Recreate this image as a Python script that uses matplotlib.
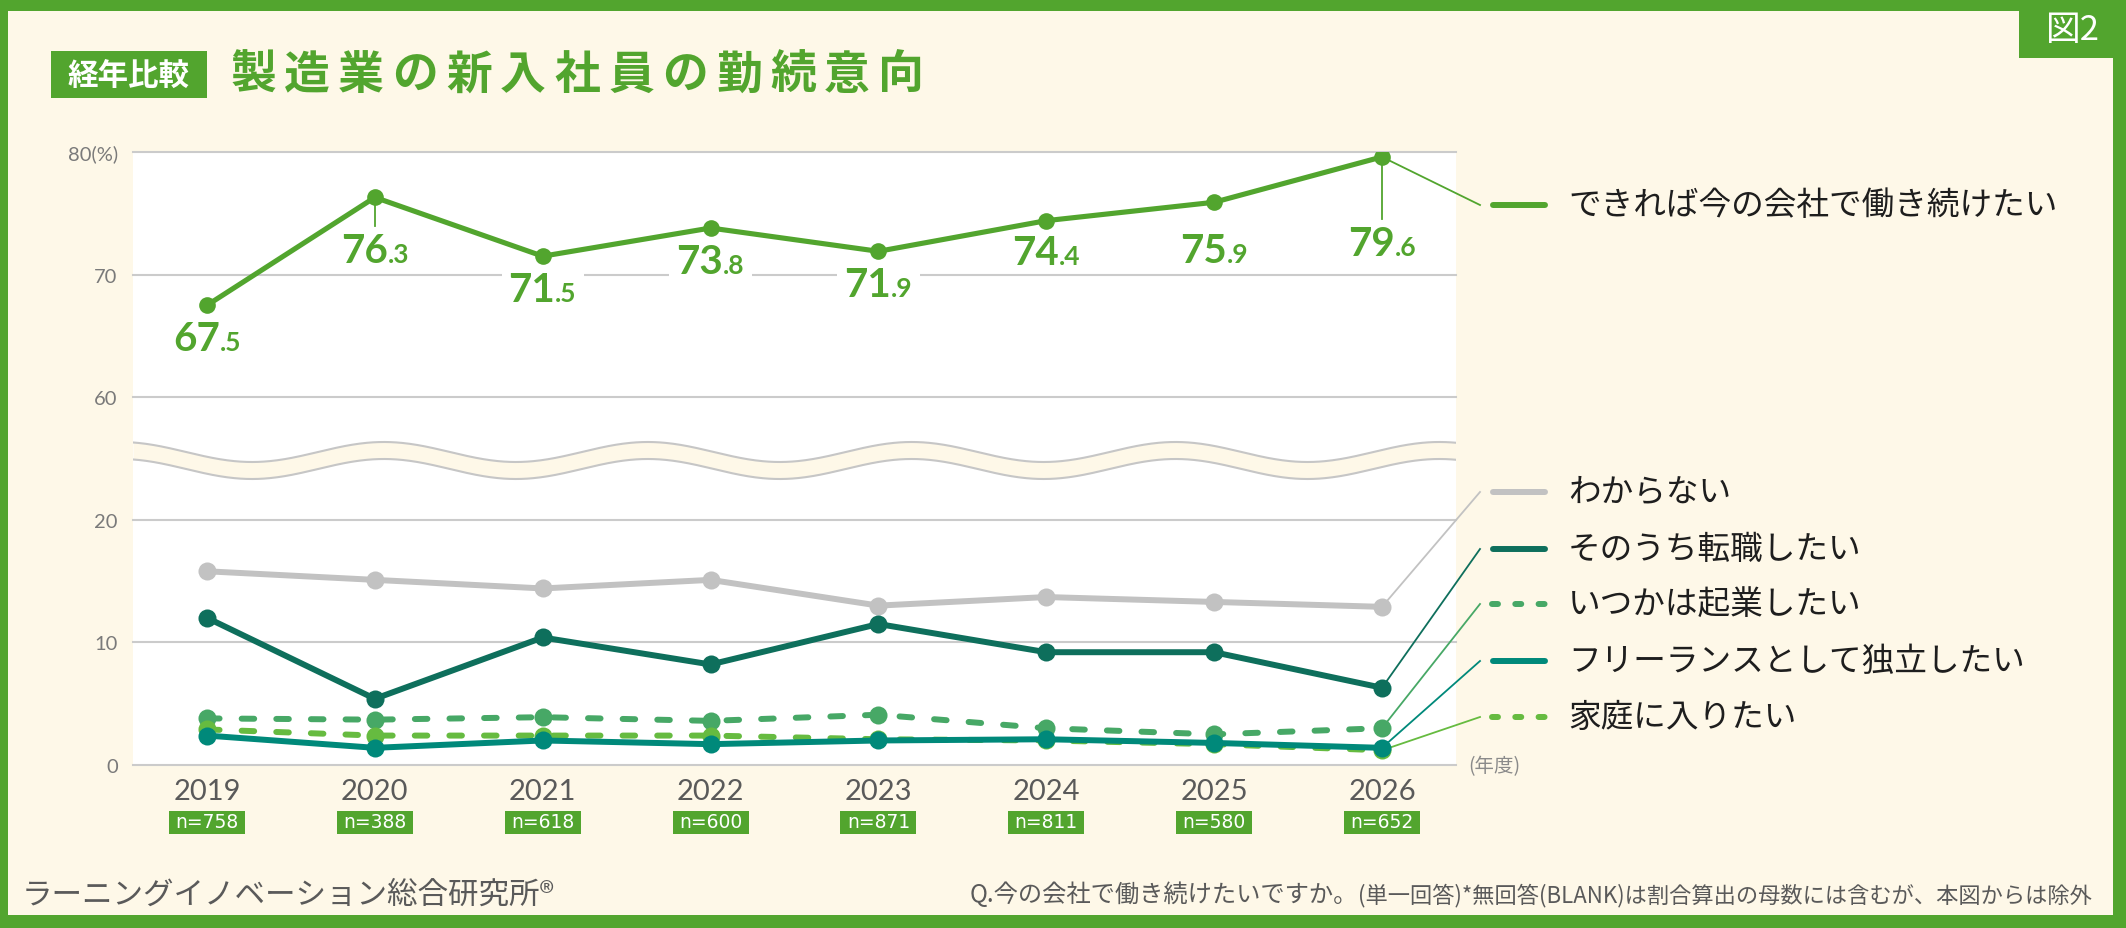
import matplotlib
matplotlib.use("Agg")
import matplotlib.pyplot as plt
import numpy as np
from matplotlib import font_manager as fm
from matplotlib.transforms import IdentityTransform
from matplotlib.patches import Rectangle
from matplotlib.lines import Line2D

# ---------------- data ----------------
years = [2019, 2020, 2021, 2022, 2023, 2024, 2025, 2026]
n_counts = [758, 388, 618, 600, 871, 811, 580, 652]

series_names = ["できれば今の会社で働き続けたい", "わからない", "そのうち転職したい",
                "いつかは起業したい", "フリーランスとして独立したい", "家庭に入りたい"]
continue_vals = [67.5, 76.3, 71.5, 73.8, 71.9, 74.4, 75.9, 79.6]
unknown_vals = [15.8, 15.1, 14.4, 15.1, 13.0, 13.7, 13.3, 12.9]
change_vals = [12.0, 5.4, 10.4, 8.2, 11.5, 9.2, 9.2, 6.3]
startup_vals = [3.8, 3.7, 3.9, 3.6, 4.1, 3.0, 2.5, 3.0]
home_vals = [2.9, 2.4, 2.4, 2.4, 2.1, 2.0, 1.7, 1.2]
freelance_vals = [2.4, 1.4, 2.0, 1.7, 2.0, 2.1, 1.8, 1.4]

y_tick_values = [0, 10, 20, 60, 70, 80]
y_tick_labels = ["0", "10", "20", "60", "70", "80(%)"]

badge_text = "経年比較"
title_text = "製造業の新入社員の勤続意向"
fig_no_text = "図2"
x_unit_text = "(年度)"
source_text = "ラーニングイノベーション総合研究所®"
note_q = "Q.今の会社で働き続けたいですか。"
note_rest = "(単一回答)*無回答(BLANK)は割合算出の母数には含むが、本図からは除外"

# broken axis: 20..60 squeezed into one 10-unit band
BREAK_LO, BREAK_HI, BREAK_GAP = 20, 60, 10
def yt(v):
    return v if v <= BREAK_LO else v - (BREAK_HI - BREAK_LO - BREAK_GAP)

# ---------------- style ----------------
W, H, DPI = 2126, 929, 100
GREEN = "#52A52E"
CREAM = "#FEF8E8"
GRID = "#CBCBCB"
GRAY = "#C2C2C2"
DARK_TEAL = "#0E6F5C"
MID_GREEN = "#47A866"
TEAL = "#00897A"
LIGHT_GREEN = "#66BB40"
TXT_GRAY = "#7A7A7A"
JP = ["Noto Sans CJK JP", "DejaVu Sans"]
available = {f.name for f in fm.fontManager.ttflist}
NUM = "Lato" if "Lato" in available else "DejaVu Sans"
NARROW = "Liberation Sans Narrow" if "Liberation Sans Narrow" in available else "DejaVu Sans"
N_SIZE = 16.5 if NARROW == "Liberation Sans Narrow" else 13.5

IDT = IdentityTransform()
def P(x, ytop):
    """figure pixel measured from the top -> display coords"""
    return x, H - ytop

fig = plt.figure(figsize=(W / DPI, H / DPI), dpi=DPI, facecolor=CREAM)
renderer = fig.canvas.get_renderer()

# plot area in pixels (from top)
L, R, T, B = 133, 1456, 153, 766
ax = fig.add_axes([L / W, (H - B) / H, (R - L) / W, (B - T) / H])
ax.set_facecolor("white")
ax.set_xlim(2018.559, 2026.441)
ax.set_ylim(0, yt(80))
for s in ax.spines.values():
    s.set_visible(False)
ax.set_xticks([])
ax.set_yticks([yt(v) for v in y_tick_values])
ax.set_yticklabels(y_tick_labels, fontsize=14.5, color=TXT_GRAY, family=NUM)
ax.tick_params(axis="y", length=0, pad=11)

for v in y_tick_values:
    ax.axhline(yt(v), color=GRID, lw=1.5, zorder=1, clip_on=False)

def D(x, y):
    return ax.transData.transform((x, y))

# wave (axis break)
ppu = (B - T) / yt(80)
xs = np.linspace(2018.559, 2026.441, 900)
wave = np.cos(2 * np.pi * (xs - 2020.054) / 1.572)
amp = 10 / ppu
up = (B - 453) / ppu + amp * wave
lo = (B - 470) / ppu + amp * wave
ax.fill_between(xs, lo, up, color=CREAM, lw=0, zorder=1.5)
ax.plot(xs, up, color="#C6C6C6", lw=1.5, zorder=1.6)
ax.plot(xs, lo, color="#C6C6C6", lw=1.5, zorder=1.6)

# series
DASH = (2.1, 3.7)
series = [
    (unknown_vals, GRAY, None, 4),
    (change_vals, DARK_TEAL, None, 4.1),
    (startup_vals, MID_GREEN, DASH, 4.2),
    (home_vals, LIGHT_GREEN, DASH, 4.3),
    (freelance_vals, TEAL, None, 4.4),
]
for vals, col, dash, z in series:
    yv = [yt(v) for v in vals]
    if dash is None:
        ax.plot(years, yv, color=col, lw=4.3, solid_capstyle="round", zorder=z)
    else:
        ax.plot(years, yv, color=col, lw=4.3, dashes=dash, dash_capstyle="round", zorder=z)
    ax.plot(years, yv, "o", ms=13, color=col, mec="none", zorder=z)

ax.plot(years, [yt(v) for v in continue_vals], color=GREEN, lw=3.7, zorder=5,
        solid_capstyle="round")
ax.plot(years, [yt(v) for v in continue_vals], "o", ms=12, color=GREEN, mec="none", zorder=5)

# value labels of the main series
label_offsets = [45, 65, 45, 45, 45, 43, 60, 98]
label_leaders = [False, True, False, False, False, False, False, True]
for yr, v, off, lead in zip(years, continue_vals, label_offsets, label_leaders):
    px, py = D(yr, yt(v))
    big, small = f"{v:.1f}".split(".")
    small = "." + small
    t1 = ax.text(0, 0, big, transform=IDT, fontsize=29, color=GREEN, fontweight="bold",
                 family=NUM, ha="left", va="baseline", zorder=3, clip_on=False)
    t2 = ax.text(0, 0, small, transform=IDT, fontsize=19, color=GREEN, fontweight="bold",
                 family=NUM, ha="left", va="baseline", zorder=3, clip_on=False)
    w1 = t1.get_window_extent(renderer).width
    w2 = t2.get_window_extent(renderer).width
    x0 = px - (w1 + w2) / 2
    base = py - off
    t1.set_position((x0, base))
    t2.set_position((x0 + w1, base))
    ax.add_patch(Rectangle((x0 - 7, base - 6), w1 + w2 + 14, 41, transform=IDT,
                           fc="white", ec="none", zorder=2.5, clip_on=False))
    if lead:
        ax.add_line(Line2D([px, px], [py, base + 36], transform=IDT, color=GREEN,
                           lw=1.3, zorder=4.9, clip_on=False))

# year labels and n boxes
for yr, n in zip(years, n_counts):
    px, _ = D(yr, 0)
    ax.text(px, H - 792, str(yr), transform=IDT, ha="center", va="center", fontsize=21,
            color="#5A5A5A", family=NUM, clip_on=False)
    ax.add_patch(Rectangle((px - 38, H - 823 - 11.5), 76, 23, transform=IDT, fc=GREEN,
                           ec="none", clip_on=False))
    ax.text(px, H - 823, f"n={n}", transform=IDT, ha="center", va="center", fontsize=N_SIZE,
            color="white", family=NARROW, clip_on=False)

fig.text(*P(1468, 767), x_unit_text, transform=IDT, ha="left", va="center", fontsize=14,
         color="#8A8A8A", family=JP)

# legend with leader lines
legend_y = [206, 493, 550, 605, 662, 718]
legend_vals = [continue_vals, unknown_vals, change_vals, startup_vals, freelance_vals, home_vals]
legend_cols = [GREEN, GRAY, DARK_TEAL, MID_GREEN, TEAL, LIGHT_GREEN]
legend_dash = [False, False, False, True, False, True]
for name, vals, col, ly, dsh in zip(series_names, legend_vals, legend_cols, legend_y, legend_dash):
    px, py = D(years[-1], yt(vals[-1]))
    lx, lyd = P(1480, ly)
    ax.add_line(Line2D([px, lx], [py, lyd], transform=IDT, color=col, lw=1.3,
                       zorder=3.9, clip_on=False))
    x1, y1 = P(1493, ly)
    x2, _ = P(1545, ly)
    if dsh:
        fig.add_artist(Line2D([x1 - 1, x2 + 2], [y1, y1], transform=IDT, color=col, lw=4.3,
                              dashes=(1.0, 2.9), dash_capstyle="round"))
    else:
        fig.add_artist(Line2D([x1, x2], [y1, y1], transform=IDT, color=col, lw=4.3,
                              solid_capstyle="round"))
    fig.text(*P(1568, ly), name, transform=IDT, ha="left", va="center", fontsize=23.5,
             color="#1E1E1E", family=JP)

# frame
for (x, ytop, w, h) in [(0, 0, W, 12), (0, 0, 8, H), (W - 13, 0, 13, H), (0, H - 13, W, 13),
                        (2019, 0, W - 2019, 59)]:
    fig.add_artist(Rectangle((x, H - ytop - h), w, h, transform=IDT, fc=GREEN, ec="none"))
fig.text(*P(2073, 31), fig_no_text, transform=IDT, ha="center", va="center", fontsize=25,
         color="white", family=JP)

# title
fig.add_artist(Rectangle(P(51, 99), 156, 47, transform=IDT, fc=GREEN, ec="none"))
fig.text(*P(129, 76), badge_text, transform=IDT, ha="center", va="center", fontsize=22,
         color="white", fontweight="bold", family=JP)
pitch = (928 - 226) / len(title_text)
for i, ch in enumerate(title_text):
    fig.text(*P(226 + pitch * (i + 0.5), 76), ch, transform=IDT, ha="center", va="center",
             fontsize=33, color=GREEN, fontweight="bold", family=JP)

# footers
fig.text(*P(22, 895), source_text, transform=IDT, ha="left", va="center", fontsize=22,
         color="#5A5A5A", family=JP)
t_rest = fig.text(*P(2092, 896), note_rest, transform=IDT, ha="right", va="center",
                  fontsize=16, color="#5A5A5A", family=JP)
wr = t_rest.get_window_extent(renderer).width
t_q = fig.text(*P(2092 - wr, 895), note_q, transform=IDT, ha="right", va="center",
               fontsize=17.5, color="#5A5A5A", family=JP)

fig.savefig("out.png", dpi=DPI, facecolor=CREAM)
